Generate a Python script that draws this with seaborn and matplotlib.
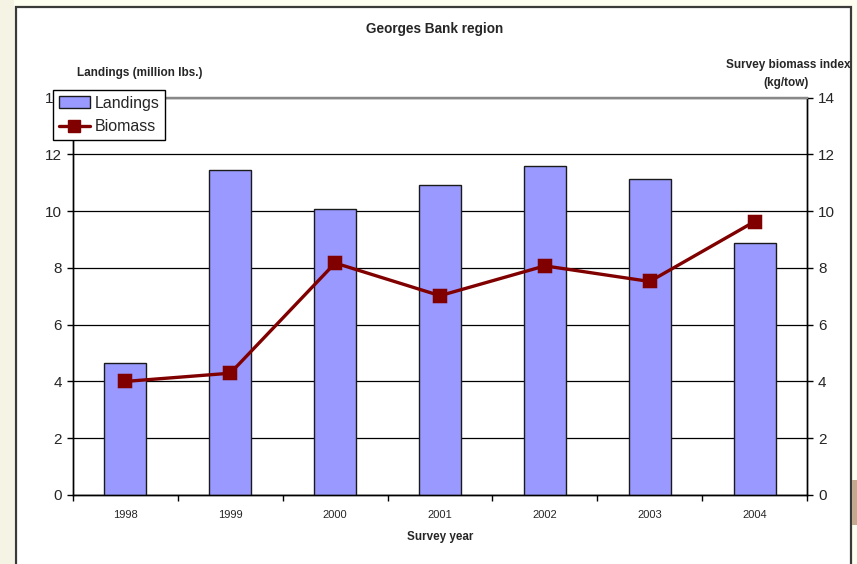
import matplotlib
matplotlib.use("Agg")
import matplotlib.pyplot as plt
from matplotlib.patches import Rectangle, Patch
from matplotlib.lines import Line2D
import seaborn as sns
import pandas as pd

# Survey years and the two series
years = ["1998", "1999", "2000", "2001", "2002", "2003", "2004"]
landings = [4.65, 11.46, 10.07, 10.93, 11.6, 11.14, 8.87]
biomass = [4.0, 4.29, 8.17, 7.02, 8.07, 7.52, 9.63]
y_ticks = [0, 2, 4, 6, 8, 10, 12, 14]

df = pd.DataFrame({"year": years, "landings": landings, "biomass": biomass})

sns.set_theme(style="white")
plt.rcParams["font.family"] = ["Liberation Sans", "DejaVu Sans"]

W, H = 857, 564
fig = plt.figure(figsize=(W / 100, H / 100), dpi=100, facecolor="#FDFDF0")

# slide-style backdrop: pale strip on the left, white panel with dark border
fig.patches.append(Rectangle((0, 0), 14 / W, 1, transform=fig.transFigure,
                             facecolor="#F5F3E3", edgecolor="none", zorder=-3))
fig.patches.append(Rectangle((16 / W, -0.02), (851 - 16) / W, 1.02 - 7 / H,
                             transform=fig.transFigure, facecolor="white",
                             edgecolor="#3a3a3a", linewidth=1.6, zorder=-2))
fig.patches.append(Rectangle((852 / W, 1 - 525 / H), 6 / W, 45 / H,
                             transform=fig.transFigure, facecolor="#C4AA8E",
                             edgecolor="none", zorder=-2))

ax = fig.add_axes([73 / W, 1 - 495 / H, (807 - 73) / W, (495 - 97.5) / H])
ax.set_facecolor("none")

sns.barplot(data=df, x="year", y="landings", ax=ax, color="#9999FF",
            saturation=1, width=0.4, edgecolor="#1a1a1a", linewidth=1.0,
            zorder=3)

ax2 = ax.twinx()
sns.pointplot(data=df, x="year", y="biomass", ax=ax2, color="#800000",
              markers="s", markersize=9, linewidth=2.4, errorbar=None)

for a in (ax, ax2):
    a.set_ylim(0, 14)
    a.set_yticks(y_ticks)
    a.set_xlim(-0.5, len(years) - 0.5)
    a.set_xlabel("")
    a.set_ylabel("")

ax.yaxis.grid(True, color="black", linewidth=0.9, zorder=0)
ax.set_axisbelow(True)
ax.xaxis.grid(False)

for a in (ax, ax2):
    a.spines["top"].set_color("#888888")
    a.spines["top"].set_linewidth(1.6)
    for s in ("left", "right", "bottom"):
        a.spines[s].set_color("black")
        a.spines[s].set_linewidth(1.0)

ax.tick_params(axis="y", direction="out", length=4, width=1, color="black",
               labelsize=11, pad=4, left=True)
ax2.tick_params(axis="y", direction="out", length=4, width=1, color="black",
                labelsize=11, pad=4, right=True)

# category labels at centres, tick marks at category boundaries
ax.set_xticks(range(len(years)))
ax.set_xticklabels(years)
ax.set_xticks([i - 0.5 for i in range(len(years) + 1)], minor=True)
ax.tick_params(axis="x", which="major", length=0, labelsize=8, pad=11)
ax.tick_params(axis="x", which="minor", direction="out", length=4, width=1,
               color="black", bottom=True)

ax.set_xlabel("Survey year", fontsize=8.4, fontweight="bold", labelpad=8)

fig.text(435 / W, 1 - 29 / H, "Georges Bank region", ha="center",
         va="center", fontsize=9.8, fontweight="bold")
fig.text(77 / W, 1 - 73 / H, "Landings (million lbs.)", ha="left",
         va="center", fontsize=8.5, fontweight="bold")
fig.text(851 / W, 1 - 65 / H, "Survey biomass index", ha="right",
         va="center", fontsize=8.5, fontweight="bold")
fig.text(786 / W, 1 - 83 / H, "(kg/tow)", ha="center",
         va="center", fontsize=8.5, fontweight="bold")

handles = [
    Patch(facecolor="#9999FF", edgecolor="#1a1a1a", linewidth=1.0),
    Line2D([], [], color="#800000", marker="s", markersize=9, linewidth=2.4),
]
leg = fig.legend(handles, ["Landings", "Biomass"], loc="upper left",
                 bbox_to_anchor=(53 / W, 1 - 90 / H), fontsize=11.5,
                 frameon=True, fancybox=False, framealpha=1,
                 edgecolor="black", borderpad=0.35, labelspacing=0.55,
                 handlelength=1.95, handletextpad=0.3, borderaxespad=0)
leg.get_frame().set_linewidth(1.0)
leg.set_zorder(10)

fig.savefig("out.png", dpi=100, facecolor=fig.get_facecolor())
